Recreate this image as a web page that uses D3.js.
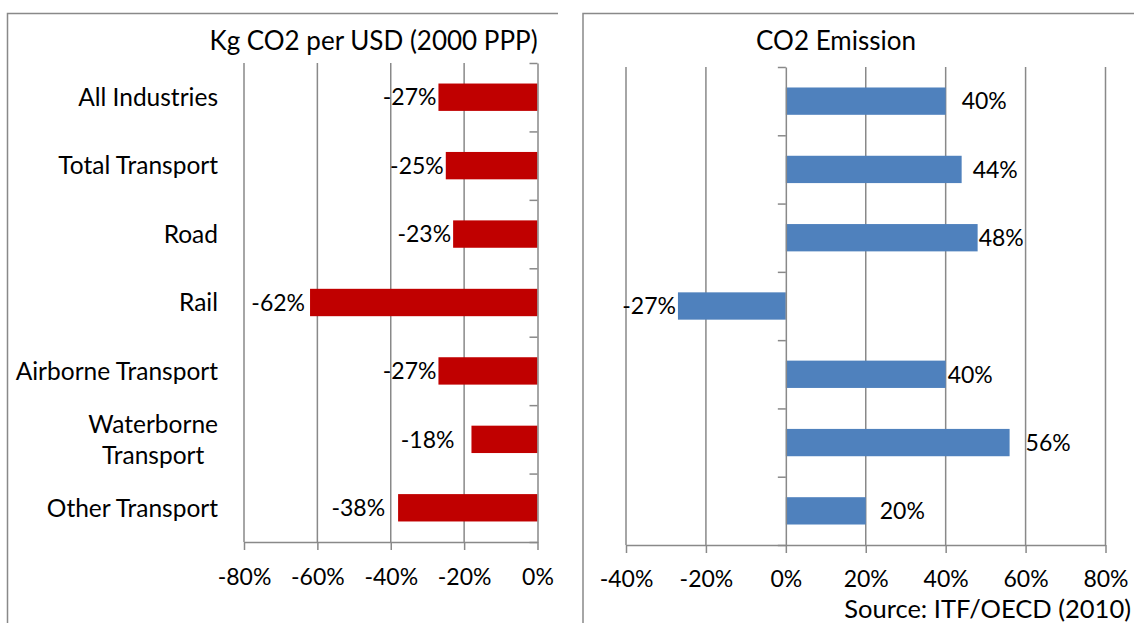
<!DOCTYPE html>
<html>
<head>
<meta charset="utf-8">
<script src="https://d3js.org/d3.v7.min.js"></script>
<style>
* { margin: 0; padding: 0; }
body { background: #fff; }
svg { display: block; font-family: Lato, "Open Sans", sans-serif; }
</style>
</head>
<body>
<svg width="1134" height="623"></svg>
<script>
// data
const categories = ["All Industries", "Total Transport", "Road", "Rail",
                    "Airborne Transport", "Waterborne Transport", "Other Transport"];
const intensityChange = [-27, -25, -23, -62, -27, -18, -38];   // Kg CO2 per USD
const emissionChange  = [40, 44, 48, -27, 40, 56, 20];         // CO2 emission
const intensityTicks = [-80, -60, -40, -20, 0];
const emissionTicks  = [-40, -20, 0, 20, 40, 60, 80];

// label nudges as placed in the original (px from bar end)
const intensityLabelGap = [2, 2, 2, 5, 2, 17, 13];
const emissionLabelGap  = [16, 11, 1, 2, 2, 16, 14];

const CAT_FONT = 24.5, TICK_FONT = 23, LABEL_FONT = 23, TITLE_FONT = 26;
const GRID = "#898989";
const svg = d3.select("svg");

// panel frames (only top + left edges visible)
svg.append("path").attr("d", "M7.5,623V13.5H558")
   .attr("fill", "none").attr("stroke", GRID).attr("stroke-width", 1.5);
svg.append("path").attr("d", "M583,623V13.5H1134")
   .attr("fill", "none").attr("stroke", GRID).attr("stroke-width", 1.5);

function panel(o) {
    const g = svg.append("g");
    const x = d3.scaleLinear().domain(d3.extent(o.ticks)).range(o.xr);
    const y = d3.scaleBand().domain(categories).range(o.yr).paddingInner(0.6).paddingOuter(0.3);
    const yb = d3.scaleLinear().domain([0, categories.length]).range(o.yr);

    // vertical grid
    g.selectAll(".grid").data(o.ticks.filter(t => t !== 0)).join("line")
        .attr("x1", d => x(d)).attr("x2", d => x(d))
        .attr("y1", o.yr[0]).attr("y2", o.yr[1])
        .attr("stroke", GRID).attr("stroke-width", 1.5);

    // bars
    g.selectAll(".bar").data(o.values).join("rect")
        .attr("x", d => x(Math.min(0, d / 100)))
        .attr("width", d => Math.abs(x(d / 100) - x(0)))
        .attr("y", (d, i) => y(categories[i]))
        .attr("height", y.bandwidth())
        .attr("fill", o.color);

    // bottom axis
    const xa = g.append("g").attr("transform", `translate(0,${o.yr[1]})`)
        .call(d3.axisBottom(x).tickValues(o.ticks).tickSize(8).tickSizeOuter(0)
              .tickFormat(d => Math.round(d * 100) + "%"));
    xa.select(".domain").attr("stroke", GRID).attr("stroke-width", 1.5);
    xa.selectAll(".tick line").attr("stroke", GRID).attr("stroke-width", 1.5);
    xa.selectAll(".tick text").attr("font-size", TICK_FONT).attr("font-family", "Lato")
        .attr("fill", "#000").attr("y", o.tickDy).attr("dy", 0);

    // category axis at zero, ticks on band boundaries
    const ya = g.append("g").attr("transform", `translate(${x(0)},0)`)
        .call(d3.axisLeft(yb).ticks(categories.length).tickSize(8).tickSizeOuter(0).tickFormat(""));
    ya.select(".domain").attr("stroke", GRID).attr("stroke-width", 1.5);
    ya.selectAll(".tick line").attr("stroke", GRID).attr("stroke-width", 1.5);

    // data labels
    g.selectAll(".lab").data(o.values).join("text")
        .attr("x", (d, i) => d < 0 ? x(d / 100) - o.gap[i] : x(d / 100) + o.gap[i])
        .attr("y", (d, i) => y(categories[i]) + y.bandwidth() / 2)
        .attr("dy", "0.36em")
        .attr("text-anchor", d => d < 0 ? "end" : "start")
        .attr("font-size", LABEL_FONT)
        .text(d => d + "%");

    // title
    svg.append("text").attr("x", o.titleX).attr("y", 50)
        .attr("text-anchor", "middle").attr("font-size", TITLE_FONT)
        .text(o.title);
    return {x, y};
}

const left = panel({
    values: intensityChange, ticks: intensityTicks.map(d => d / 100),
    xr: [244, 537.5], yr: [63, 542], color: "#C00000",
    gap: intensityLabelGap, tickDy: 43,
    title: "Kg CO2 per USD (2000 PPP)", titleX: 373.5
});
panel({
    values: emissionChange, ticks: emissionTicks.map(d => d / 100),
    xr: [626, 1105.5], yr: [67, 545], color: "#4F81BD",
    gap: emissionLabelGap, tickDy: 42,
    title: "CO2 Emission", titleX: 836
});

// category labels, wrapped when too wide, lines centred within the block
const labelRight = 218, maxWidth = 212, lineH = 31;
categories.forEach((c, i) => {
    const cy = left.y(c) + left.y.bandwidth() / 2;
    const probe = svg.append("text").attr("font-size", CAT_FONT).text(c);
    const w = probe.node().getComputedTextLength();
    probe.remove();
    if (w <= maxWidth) {
        svg.append("text").attr("x", labelRight).attr("y", cy).attr("dy", "0.36em")
            .attr("text-anchor", "end").attr("font-size", CAT_FONT).text(c);
    } else {
        const words = c.split(" ");
        const t = svg.append("text").attr("font-size", CAT_FONT).attr("text-anchor", "middle");
        words.forEach((wd, k) => {
            t.append("tspan").attr("y", cy + (k - (words.length - 1) / 2) * lineH)
                .attr("dy", "0.36em").text(wd);
        });
        const bw = d3.max(t.selectAll("tspan").nodes(), n => n.getComputedTextLength());
        t.selectAll("tspan").attr("x", labelRight - bw / 2);
    }
});

svg.append("text").attr("x", 1131).attr("y", 618).attr("text-anchor", "end")
    .attr("font-size", 25.5).text("Source: ITF/OECD (2010)");
</script>
</body>
</html>
